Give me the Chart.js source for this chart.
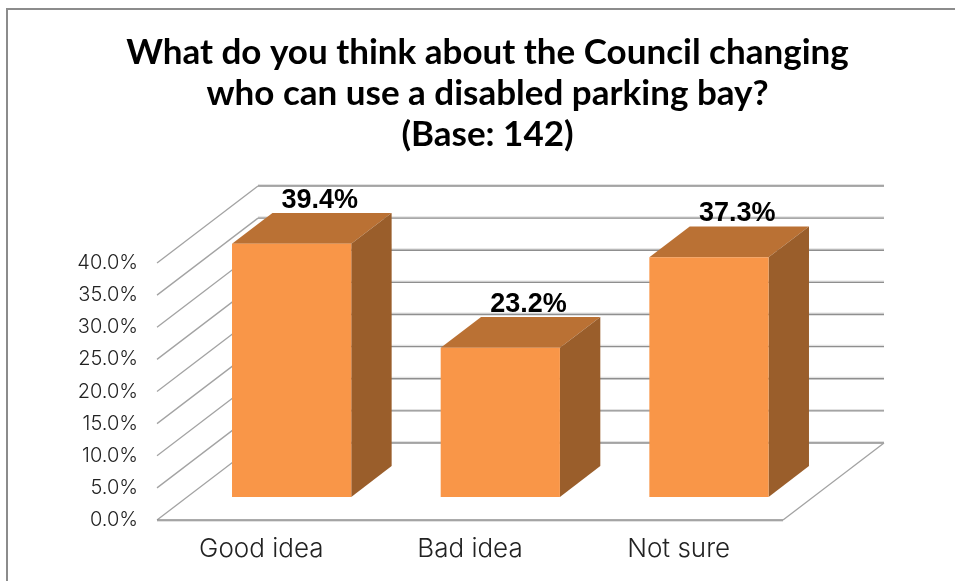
<!DOCTYPE html>
<html>
<head>
<meta charset="utf-8">
<script src="https://cdn.jsdelivr.net/npm/chart.js@4/dist/chart.umd.js"></script>
<style>
  html, body { margin: 0; padding: 0; background: #fff; overflow: hidden; }
  #frame { position: absolute; left: 6px; top: 8px; width: 1000px; height: 700px;
           border-left: 2px solid #8c8c8c; border-top: 2px solid #8c8c8c; }
  #canvas { position: absolute; left: 0; top: 0; }
</style>
</head>
<body>
<div id="frame"></div>
<canvas id="canvas" width="955" height="581"></canvas>
<script>
  var categories = ['Good idea', 'Bad idea', 'Not sure'];
  var shares = [39.4, 23.2, 37.3];
  var titleLines = [
    'What do you think about the Council changing',
    'who can use a disabled parking bay?',
    '(Base: 142)'
  ];

  // projection of the floor depth, in pixels
  var DEPTH_X = 101;
  var DEPTH_Y = -77;
  // bars sit in the middle of the floor
  var BAR_START = 0.3;
  var BAR_DEPTH = 0.4;

  function poly(ctx, pts, fill) {
    ctx.beginPath();
    ctx.moveTo(pts[0][0], pts[0][1]);
    for (var i = 1; i < pts.length; i++) {
      ctx.lineTo(pts[i][0], pts[i][1]);
    }
    ctx.closePath();
    ctx.fillStyle = fill;
    ctx.fill();
  }

  function stroke(ctx, x1, y1, x2, y2, color, width) {
    ctx.beginPath();
    ctx.moveTo(x1, y1);
    ctx.lineTo(x2, y2);
    ctx.strokeStyle = color;
    ctx.lineWidth = width;
    ctx.stroke();
  }

  var box3d = {
    id: 'box3d',
    beforeDatasetsDraw: function (chart) {
      var ctx = chart.ctx;
      var area = chart.chartArea;
      var y = chart.scales.y;

      ctx.save();
      // walls and floor
      y.ticks.forEach(function (tick) {
        var py = y.getPixelForValue(tick.value);
        var by = py + DEPTH_Y;
        stroke(ctx, area.left + DEPTH_X, by - 1, area.right + DEPTH_X, by - 1, '#e2e2e2', 2);
        stroke(ctx, area.left + DEPTH_X, by, area.right + DEPTH_X, by, '#8f8f8f', 1.4);
        stroke(ctx, area.left, py, area.left + DEPTH_X, by, '#a3a3a3', 1.3);
      });
      stroke(ctx, area.left, area.bottom + 1, area.right, area.bottom + 1, '#e2e2e2', 2);
      stroke(ctx, area.left, area.bottom, area.right, area.bottom, '#8f8f8f', 1.4);
      stroke(ctx, area.right, area.bottom, area.right + DEPTH_X, area.bottom + DEPTH_Y, '#a3a3a3', 1.3);

      // top and side faces of each bar
      var ox = DEPTH_X * BAR_START;
      var oy = DEPTH_Y * BAR_START;
      var dx = DEPTH_X * BAR_DEPTH;
      var dy = DEPTH_Y * BAR_DEPTH;
      chart.getDatasetMeta(0).data.forEach(function (bar) {
        var l = bar.x - bar.width / 2 + ox;
        var r = bar.x + bar.width / 2 + ox;
        var t = bar.y + oy;
        var b = bar.base + oy;
        poly(ctx, [[l, t], [r, t], [r + dx, t + dy], [l + dx, t + dy]], '#ba7134');
        poly(ctx, [[r, t], [r + dx, t + dy], [r + dx, b + dy], [r, b]], '#9a5e2b');
      });
      ctx.restore();

      // front faces are the chart's own bars, moved onto the bar plane
      ctx.save();
      ctx.translate(ox, oy);
    },
    afterDatasetsDraw: function (chart) {
      var ctx = chart.ctx;
      ctx.restore();

      ctx.save();
      ctx.font = 'bold 27px "Liberation Sans"';
      ctx.fillStyle = '#000';
      ctx.textAlign = 'center';
      ctx.textBaseline = 'alphabetic';
      chart.getDatasetMeta(0).data.forEach(function (bar, i) {
        var px = bar.x + DEPTH_X * (BAR_START + BAR_DEPTH / 2) + 8;
        var py = bar.y + DEPTH_Y * (BAR_START + BAR_DEPTH) - 5;
        ctx.fillText(shares[i].toFixed(1) + '%', px, py);
      });
      ctx.restore();
    }
  };

  new Chart(document.getElementById('canvas'), {
    type: 'bar',
    data: {
      labels: categories,
      datasets: [{
        data: shares,
        backgroundColor: '#f99648',
        borderWidth: 0,
        clip: false,
        categoryPercentage: 1,
        barPercentage: 0.5714
      }]
    },
    options: {
      responsive: false,
      animation: false,
      layout: { padding: { left: 20 } },
      plugins: {
        legend: { display: false },
        tooltip: { enabled: false },
        title: {
          display: true,
          text: titleLines,
          color: '#000',
          font: { family: 'Lato', size: 35, weight: 'bold', lineHeight: 41 / 35 },
          padding: { top: 32, bottom: 108 }
        }
      },
      scales: {
        x: {
          grid: { display: false, drawTicks: false },
          border: { display: false },
          ticks: {
            color: '#222',
            font: { family: 'Inter', size: 26, weight: '300' },
            padding: 14,
            maxRotation: 0
          },
          afterFit: function (scale) { scale.height = 61; }
        },
        y: {
          min: 0,
          max: 40,
          grid: { display: false, drawTicks: false },
          border: { display: false },
          ticks: {
            stepSize: 5,
            color: '#222',
            font: { family: 'Inter', size: 20, weight: '300' },
            padding: 19,
            callback: function (v) { return v.toFixed(1) + '%'; }
          },
          afterFit: function (scale) { scale.width = 137; }
        },
        // empty axis that keeps room for the receding floor on the right
        depth: {
          position: 'right',
          grid: { display: false, drawTicks: false },
          border: { display: false },
          ticks: { display: false },
          afterFit: function (scale) { scale.width = 172; }
        }
      }
    },
    plugins: [box3d]
  });
</script>
</body>
</html>
